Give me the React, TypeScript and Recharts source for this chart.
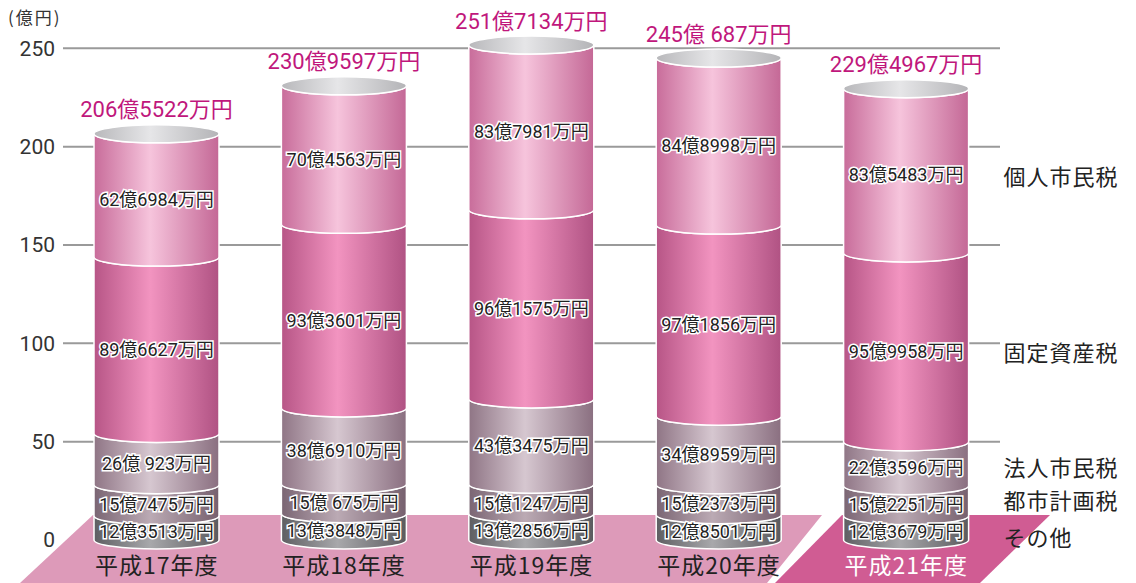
import { BarChart, Bar, XAxis, YAxis, CartesianGrid, LabelList } from 'recharts';

// 万円単位
const categories = ['平成17年度', '平成18年度', '平成19年度', '平成20年度', '平成21年度'];
const sonota = [123513, 133848, 132856, 128501, 123679];
const toshi = [157475, 150675, 151247, 152373, 152251];
const houjin = [260923, 386910, 433475, 348959, 223596];
const kotei = [896627, 933601, 961575, 971856, 959958];
const kojin = [626984, 704563, 837981, 848998, 835483];
const yTicks = [0, 50, 100, 150, 200, 250];

const series = [
  { key: 'sonota', name: 'その他', values: sonota, grad: 'gSonota', legendDy: 8 },
  { key: 'toshi', name: '都市計画税', values: toshi, grad: 'gToshi', legendDy: -2 },
  { key: 'houjin', name: '法人市民税', values: houjin, grad: 'gHoujin', legendDy: 2 },
  { key: 'kotei', name: '固定資産税', values: kotei, grad: 'gKotei', legendDy: 4 },
  { key: 'kojin', name: '個人市民税', values: kojin, grad: 'gKojin', legendDy: 4 },
];

const fmt = (man: number) => {
  const oku = Math.floor(man / 10000);
  const rest = man % 10000;
  return `${oku}億${rest < 1000 ? ' ' : ''}${rest}万円`;
};

const data = categories.map((name, i) => {
  const row: any = { name };
  let total = 0;
  series.forEach((s) => {
    row[s.key] = s.values[i] / 10000;
    row[s.key + 'Label'] = fmt(s.values[i]);
    total += s.values[i];
  });
  row.totalLabel = fmt(total);
  return row;
});

const RY = 9;
const NUM_FONT = 'Roboto, "Noto Sans CJK JP", sans-serif';
const JP_FONT = '"Noto Sans CJK JP", sans-serif';

function Cylinder(props: any) {
  const { x, y, width, height, grad, top } = props;
  if (!width || height == null) return null;
  const rx = width / 2;
  const yb = y + height;
  const d = `M${x},${y} A${rx},${RY} 0 0 0 ${x + width},${y} L${x + width},${yb} A${rx},${RY} 0 0 1 ${x},${yb} Z`;
  return (
    <g>
      <path d={d} fill={`url(#${grad})`} stroke="#fff" strokeWidth={1.5} />
      {top && (
        <ellipse cx={x + rx} cy={y} rx={rx} ry={RY} fill="url(#gCap)" stroke="#fff" strokeWidth={1.5} />
      )}
    </g>
  );
}

const makeInner = (legend: string, legendDy: number) => (props: any) => {
  const { x, y, width, height, value, index } = props;
  const mid = y + height / 2;
  return (
    <g>
      <text
        x={x + width / 2}
        y={mid + 4}
        textAnchor="middle"
        dominantBaseline="central"
        fontSize={18}
        fontFamily={NUM_FONT}
        fill="#222"
        stroke="#fff"
        strokeWidth={3}
        paintOrder="stroke"
        style={{ whiteSpace: 'pre' }}
      >
        {value}
      </text>
      {index === categories.length - 1 && (
        <text
          x={x + width + 35}
          y={mid + legendDy}
          dominantBaseline="central"
          fontSize={22}
          fontFamily={JP_FONT}
          fill="#222"
          letterSpacing={1}
        >
          {legend}
        </text>
      )}
    </g>
  );
};

const TotalLabel = (props: any) => {
  const { x, y, width, value } = props;
  return (
    <text
      x={x + width / 2}
      y={y - 24}
      textAnchor="middle"
      dominantBaseline="central"
      fontSize={22}
      fontFamily={NUM_FONT}
      fill="#c0177c"
      style={{ whiteSpace: 'pre' }}
    >
      {value}
    </text>
  );
};

const CategoryTick = (props: any) => {
  const { x, y, payload, index } = props;
  const last = index === categories.length - 1;
  return (
    <text
      x={x}
      y={y + 16}
      textAnchor="middle"
      dominantBaseline="central"
      fontSize={23}
      letterSpacing={1}
      fontFamily={JP_FONT}
      fill={last ? '#fff' : '#222'}
    >
      {payload.value}
    </text>
  );
};

function Gradient({ id, edge, mid, edge2 }: { id: string; edge: string; mid: string; edge2: string }) {
  return (
    <linearGradient id={id} x1="0" y1="0" x2="1" y2="0">
      <stop offset="0" stopColor={edge} />
      <stop offset="0.45" stopColor={mid} />
      <stop offset="1" stopColor={edge2} />
    </linearGradient>
  );
}

export default function App() {
  return (
    <div style={{ position: 'absolute', left: 0, top: 0, width: 1136, height: 583, background: '#fff' }}>
      <svg width={1136} height={583} style={{ position: 'absolute', left: 0, top: 0 }}>
        <defs>
          <Gradient id="gKojin" edge="#c86c9a" mid="#f6c4dc" edge2="#c46896" />
          <Gradient id="gKotei" edge="#b75586" mid="#f294c0" edge2="#b05283" />
          <Gradient id="gHoujin" edge="#8f7585" mid="#d6c7d0" edge2="#8a6f80" />
          <Gradient id="gToshi" edge="#7a6573" mid="#bbaab4" edge2="#76606e" />
          <Gradient id="gSonota" edge="#5e5e62" mid="#a8a8ab" edge2="#5a5a5e" />
          <Gradient id="gCap" edge="#b8b8bb" mid="#e6e6e8" edge2="#b4b4b7" />
        </defs>
        <polygon points="20,583 93,515 822,515 767,583" fill="#dd9ab9" />
        <polygon points="775,583 842,515 1050,515 980,583" fill="#d05c93" />
        <text x={8} y={24} fontSize={17} letterSpacing={2} fontFamily={JP_FONT} fill="#333">
          (億円)
        </text>
      </svg>
      <div style={{ position: 'absolute', left: 0, top: 0 }}>
        <BarChart
          width={1136}
          height={583}
          data={data}
          margin={{ top: 45, right: 136, bottom: 13, left: 3 }}
          barSize={125}
        >
          <CartesianGrid vertical={false} horizontalValues={[50, 100, 150, 200, 250]} stroke="#9a9a9a" strokeWidth={2} />
          <XAxis dataKey="name" height={30} axisLine={false} tickLine={false} tick={<CategoryTick />} interval={0} />
          <YAxis
            width={60}
            domain={[0, 250]}
            ticks={yTicks}
            axisLine={false}
            tickLine={false}
            tick={{ fontSize: 21, fill: '#333', fontFamily: NUM_FONT }}
          />
          {series.map((s, si) => (
            <Bar
              key={s.key}
              dataKey={s.key}
              stackId="a"
              isAnimationActive={false}
              shape={(p: any) => <Cylinder {...p} grad={s.grad} top={si === series.length - 1} />}
            >
              <LabelList dataKey={s.key + 'Label'} content={makeInner(s.name, s.legendDy)} />
              {si === series.length - 1 && <LabelList dataKey="totalLabel" content={<TotalLabel />} />}
            </Bar>
          ))}
        </BarChart>
      </div>
    </div>
  );
}
